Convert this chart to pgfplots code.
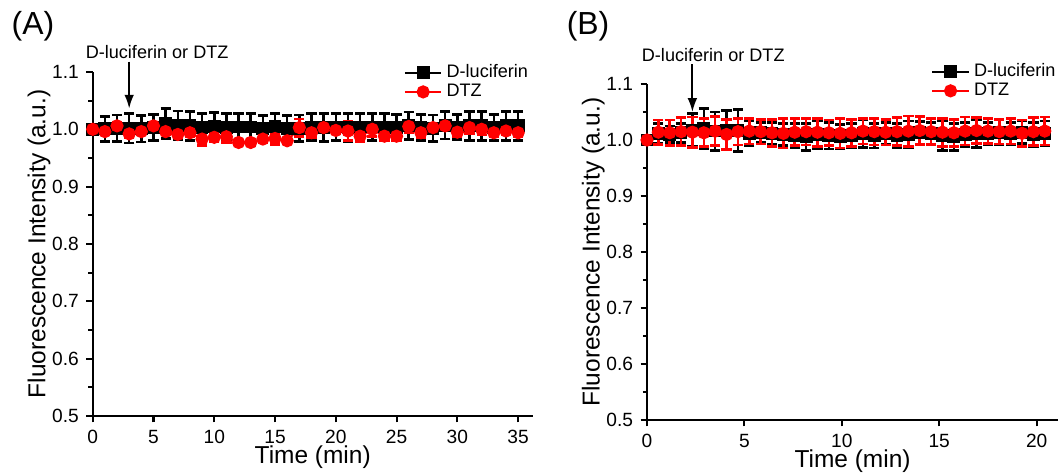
\documentclass[border=0pt]{standalone}
\usepackage{fontspec}
\setmainfont{Liberation Sans}
\usepackage{pgfplots}
\usepackage{pgfplotstable}
\pgfplotsset{compat=1.18}
\usetikzlibrary{arrows.meta}

\definecolor{dtzred}{HTML}{FF0000}

% panel A: one reading per minute
\pgfplotstableread{
x  y     e
0  1.000 0
1  1.001 0.022
2  1.002 0.023
3  1.002 0.026
4  1.001 0.023
5  1.003 0.023
6  1.010 0.026
7  1.007 0.025
8  1.006 0.025
9  1.003 0.024
10 1.005 0.024
11 1.003 0.024
12 1.004 0.023
13 1.004 0.023
14 1.001 0.023
15 1.005 0.023
16 1.001 0.023
17 1.002 0.023
18 1.004 0.024
19 1.003 0.024
20 1.004 0.024
21 1.003 0.024
22 1.004 0.023
23 1.004 0.023
24 1.004 0.023
25 1.003 0.023
26 1.006 0.024
27 1.003 0.023
28 1.002 0.023
29 1.007 0.024
30 1.004 0.022
31 1.006 0.025
32 1.006 0.025
33 1.003 0.023
34 1.006 0.025
35 1.006 0.025
}\lucA

\pgfplotstableread{
x  y     e
0  1.000 0
1  0.996 0.006
2  1.006 0.005
3  0.992 0.007
4  0.996 0.006
5  1.006 0.005
6  0.996 0.006
7  0.991 0.005
8  0.994 0.006
9  0.983 0.011
10 0.986 0.008
11 0.987 0.010
12 0.977 0.004
13 0.977 0.005
14 0.983 0.007
15 0.984 0.010
16 0.980 0.005
17 1.003 0.015
18 0.994 0.008
19 1.003 0.006
20 0.998 0.006
21 0.997 0.016
22 0.988 0.010
23 1.000 0.012
24 0.988 0.007
25 0.988 0.008
26 1.005 0.010
27 0.994 0.008
28 1.003 0.005
29 1.006 0.005
30 0.995 0.007
31 1.003 0.010
32 1.000 0.010
33 0.994 0.006
34 0.997 0.006
35 0.994 0.007
}\dtzA

% panel B: one reading every 35 s
\pgfplotstableread{
x      y     e
0      1.000 0
0.583  1.012 0.018
1.167  1.010 0.015
1.750  1.013 0.017
2.333  1.018 0.030
2.917  1.020 0.036
3.500  1.016 0.034
4.083  1.018 0.035
4.667  1.017 0.038
5.250  1.012 0.022
5.833  1.013 0.018
6.417  1.012 0.020
7.000  1.010 0.020
7.583  1.008 0.022
8.167  1.006 0.024
8.750  1.010 0.025
9.333  1.008 0.024
9.917  1.006 0.022
10.500 1.008 0.021
11.083 1.012 0.025
11.667 1.008 0.022
12.250 1.012 0.020
12.833 1.008 0.022
13.417 1.010 0.024
14.000 1.013 0.020
14.583 1.012 0.020
15.167 1.008 0.026
15.750 1.006 0.024
16.333 1.010 0.022
16.917 1.012 0.025
17.500 1.012 0.020
18.083 1.014 0.022
18.667 1.012 0.020
19.250 1.014 0.020
19.833 1.010 0.022
20.417 1.012 0.022
}\lucB

\pgfplotstableread{
x      y     e
0      1.000 0
0.583  1.014 0.022
1.167  1.013 0.023
1.750  1.015 0.025
2.333  1.014 0.027
2.917  1.013 0.025
3.500  1.016 0.026
4.083  1.010 0.027
4.667  1.015 0.024
5.250  1.016 0.023
5.833  1.015 0.022
6.417  1.013 0.024
7.000  1.012 0.026
7.583  1.014 0.024
8.167  1.015 0.024
8.750  1.014 0.025
9.333  1.013 0.023
9.917  1.012 0.026
10.500 1.013 0.024
11.083 1.016 0.023
11.667 1.015 0.024
12.250 1.014 0.023
12.833 1.015 0.025
13.417 1.016 0.027
14.000 1.017 0.025
14.583 1.015 0.023
15.167 1.014 0.025
15.750 1.013 0.024
16.333 1.016 0.025
16.917 1.017 0.023
17.500 1.016 0.022
18.083 1.015 0.022
18.667 1.016 0.023
19.250 1.012 0.024
19.833 1.015 0.025
20.417 1.016 0.025
}\dtzB

\pgfplotsset{
  fluo/.style={
    scale only axis,
    anchor=south west,
    axis x line*=bottom,
    axis y line*=left,
    axis line style={line width=1.1pt},
    tick align=outside,
    major tick length=3pt,
    minor tick length=2pt,
    tick style={black, line width=1pt},
    ymin=0.5, ymax=1.1,
    ytick={0.5,0.6,0.7,0.8,0.9,1.0,1.1},
    minor y tick num=1,
    xmin=0,
    clip=false,
    ticklabel style={font=\fontsize{9}{10}\selectfont},
    yticklabel style={/pgf/number format/.cd, fixed, fixed zerofill, precision=1, assume math mode=true},
    xticklabel style={/pgf/number format/assume math mode=true},
    label style={font=\fontsize{11.5}{13}\selectfont},
    xlabel={Time (min)},
    ylabel={Fluorescence Intensity (a.u.)},
    xlabel style={yshift=3.5pt, inner sep=1pt},
    ylabel style={yshift=-6pt},
    legend style={draw=none, fill=none, inner sep=0pt,
      font=\fontsize{8.5}{10}\selectfont, row sep=-2.5pt,
      legend cell align=left},
  },
  lucser/.style={black, line width=1pt, mark=square*, mark size=2.5pt,
    mark options={fill=black, draw=black},
    error bars/.cd, y dir=both, y explicit,
    error mark=-, error mark options={rotate=90, mark size=2.4pt, line width=1.3pt},
    error bar style={line width=1.2pt}},
  dtzser/.style={dtzred, line width=1pt, mark=*, mark size=2.6pt,
    mark options={fill=dtzred, draw=dtzred},
    error bars/.cd, y dir=both, y explicit,
    error mark=-, error mark options={rotate=90, mark size=2.4pt, line width=1.3pt},
    error bar style={line width=1.2pt}},
}

\begin{document}
\begin{tikzpicture}
\useasboundingbox (0pt,0pt) rectangle (499.61pt,221.84pt);

\node[font=\fontsize{15}{17}\selectfont] at (15.5pt,209.6pt) {(A)};
\node[font=\fontsize{15}{17}\selectfont] at (276.4pt,209.6pt) {(B)};

\begin{axis}[fluo, at={(43.57pt,26.32pt)}, width=206.8pt, height=161.7pt,
  xmax=36.2, xtick={0,5,10,15,20,25,30,35},
  legend style={at={(rel axis cs:1.0,1.035)}, anchor=north east}]
\addplot[lucser] table[x=x, y=y, y error=e] {\lucA};
\addlegendentry{D-luciferin}
\addplot[dtzser] table[x=x, y=y, y error=e] {\dtzA};
\addlegendentry{DTZ}
\node[font=\fontsize{8.5}{10}\selectfont] at (axis cs:5.3,1.135) {D-luciferin or DTZ};
\draw[-{Latex[length=6.5pt, width=4.5pt]}, line width=0.9pt] (axis cs:3,1.118) -- (axis cs:3,1.036);
\end{axis}

\begin{axis}[fluo, at={(304.09pt,24.44pt)}, width=193.2pt, height=157.9pt,
  xmax=21.1, xtick={0,5,10,15,20},
  legend style={at={(rel axis cs:1.005,1.075)}, anchor=north east}]
\addplot[lucser] table[x=x, y=y, y error=e] {\lucB};
\addlegendentry{D-luciferin}
\addplot[dtzser] table[x=x, y=y, y error=e] {\dtzB};
\addlegendentry{DTZ}
\node[font=\fontsize{8.5}{10}\selectfont] at (axis cs:3.4,1.152) {D-luciferin or DTZ};
\draw[-{Latex[length=6.5pt, width=4.5pt]}, line width=0.9pt] (axis cs:2.33,1.135) -- (axis cs:2.33,1.05);
\end{axis}
\end{tikzpicture}
\end{document}
